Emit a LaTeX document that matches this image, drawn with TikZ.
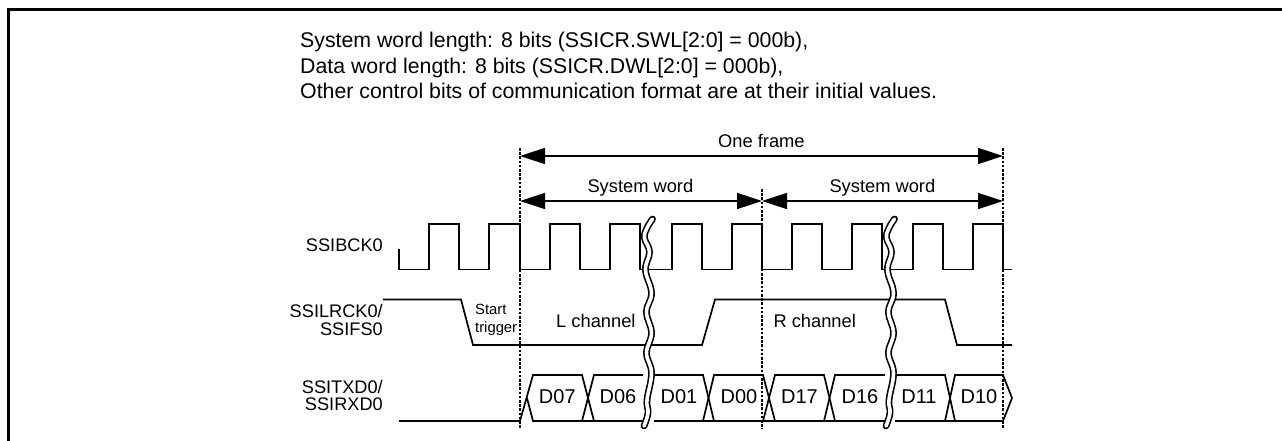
\documentclass[tikz,border=0pt]{standalone}
\usepackage{fontspec}
\setmainfont{Liberation Sans}
\usetikzlibrary{arrows.meta}
\tikzset{
  sig/.style={line width=1.7pt,line join=miter},
  guide/.style={line width=2.8pt,dash pattern=on 2.6pt off 1.6pt},
  dimline/.style={line width=1.6pt,{Triangle[length=25pt,width=16pt]}-{Triangle[length=25pt,width=16pt]}},
  lbl/.style={inner sep=0pt,anchor=base west,font=\fontsize{18.3}{18.3}\selectfont},
  head/.style={inner sep=0pt,anchor=base west,font=\fontsize{21.3}{21.3}\selectfont},
  dat/.style={inner sep=0pt,font=\fontsize{20}{20}\selectfont},
  signame/.style={inner sep=0pt,align=right,anchor=east,font=\fontsize{18.2}{17.7}\selectfont},
  brk/.style={line cap=round,line join=round}
}
\begin{document}
\begin{tikzpicture}[x=1pt,y=-1pt]
\useasboundingbox (0,0) rectangle (1282,441);
\fill[white] (0,0) rectangle (1282,441);
\draw[line width=3pt] (8,441) -- (8,9.7) -- (1282,9.7);
\node[head] (h1) at (300,47.7) {System word length: 8 bits (SSICR.SWL[2:0] = 000b),};
\node[head] (h2) at (300,73.2) {Data word length: 8 bits (SSICR.DWL[2:0] = 000b),};
\node[head] (h3) at (300,98.7) {Other control bits of communication format are at their initial values.};
% clock
\draw[sig] (399,249) |- (429,269.5) |- (459,224) |- (489,269.5) |- (520,224) |- (550,269.5) |- (580,224) |- (610,269.5) |- (640,224) |- (672,269.5) |- (702,224) |- (732,269.5) |- (762,224) |- (792,269.5) |- (822,224) |- (852,269.5) |- (882,224) |- (913,269.5) |- (943,224) |- (973,269.5) |- (1003,224) |- (1012,269.5);
% frame sync
\draw[sig] (383,299.5) -- (461,299.5) -- (473,345) -- (702,345) -- (715,299.5) -- (945,299.5) -- (957,345) -- (1012,345);
% data
\draw[sig] (399,421) -- (520,421) -- (533,375) -- (582,375) -- (594,421) -- (533,421) -- (527,398);
\draw[sig] (582,421) -- (594,375) -- (643,375);
\draw[sig] (594,421) -- (643,421);
\draw[sig] (654,375) -- (703,375) -- (714,421) -- (654,421);
\draw[sig] (703,421) -- (714,375) -- (763,375) -- (775,421) -- (714,421);
\draw[sig] (763,421) -- (775,375) -- (824,375) -- (835,421) -- (775,421);
\draw[sig] (824,421) -- (835,375) -- (885,375);
\draw[sig] (835,421) -- (885,421);
\draw[sig] (895,375) -- (945,375) -- (955,421) -- (895,421);
\draw[sig] (945,421) -- (955,375) -- (1003,375) -- (1012,398) -- (1003,421) -- (955,421);
% breaks
\foreach \dx in {0,242}{
  \begin{scope}[xshift=\dx pt]
    \draw[brk,line width=6.8pt,black] plot[smooth,tension=0.7] coordinates {(652.5,219) (647,228) (644.5,238) (649.5,252) (645.5,270) (651.5,293) (646.5,312) (651.5,333) (646.5,353) (651.5,373) (647,400) (648,413) (644,426)};
    \draw[brk,line width=3.6pt,white] plot[smooth,tension=0.7] coordinates {(652.5,219) (647,228) (644.5,238) (649.5,252) (645.5,270) (651.5,293) (646.5,312) (651.5,333) (646.5,353) (651.5,373) (647,400) (648,413) (644,426)};
  \end{scope}
}
% guides
\coordinate (g1t) at (520,148); \coordinate (g1b) at (520,429);
\coordinate (g2t) at (762,189); \coordinate (g2b) at (762,429);
\coordinate (g3t) at (1003,148); \coordinate (g3b) at (1003,429);
\draw[guide] (g1t) -- (g1b);
\draw[guide] (g2t) -- (g2b);
\draw[guide] (g3t) -- (g3b);
% dimensions
\coordinate (a1) at (520,156); \coordinate (a2) at (1003,156);
\coordinate (b1) at (520,201); \coordinate (b2) at (762,201); \coordinate (b3) at (1003,201);
\draw[dimline] (a1) -- (a2);
\draw[dimline] (b1) -- (b2);
\draw[dimline] (b2) -- (b3);
\node[lbl] (oneframe) at (718,147.5) {One frame};
\node[lbl] (sw1) at (587.3,192.5) {System word};
\node[lbl] (sw2) at (829.3,192.5) {System word};
% names
\node[signame] (bck) at (383,245) {SSIBCK0};
\node[signame] (lrck) at (383,320) {SSILRCK0/\\SSIFS0};
\node[signame] (txd) at (383,395.5) {SSITXD0/\\SSIRXD0};
\node[inner sep=0pt,anchor=west,align=left,font=\fontsize{14.8}{18}\selectfont] (st) at (475,320) {Start\\trigger};
\node[lbl] (lch) at (556,327.8) {L channel};
\node[lbl] (rch) at (773.3,327.8) {R channel};
\foreach \n/\x in {D07/557.3,D06/618,D01/679,D00/739,D17/799.5,D16/860,D11/919,D10/979}{
  \node[dat] (\n) at (\x,396.5) {\n};
}
\end{tikzpicture}
\end{document}
